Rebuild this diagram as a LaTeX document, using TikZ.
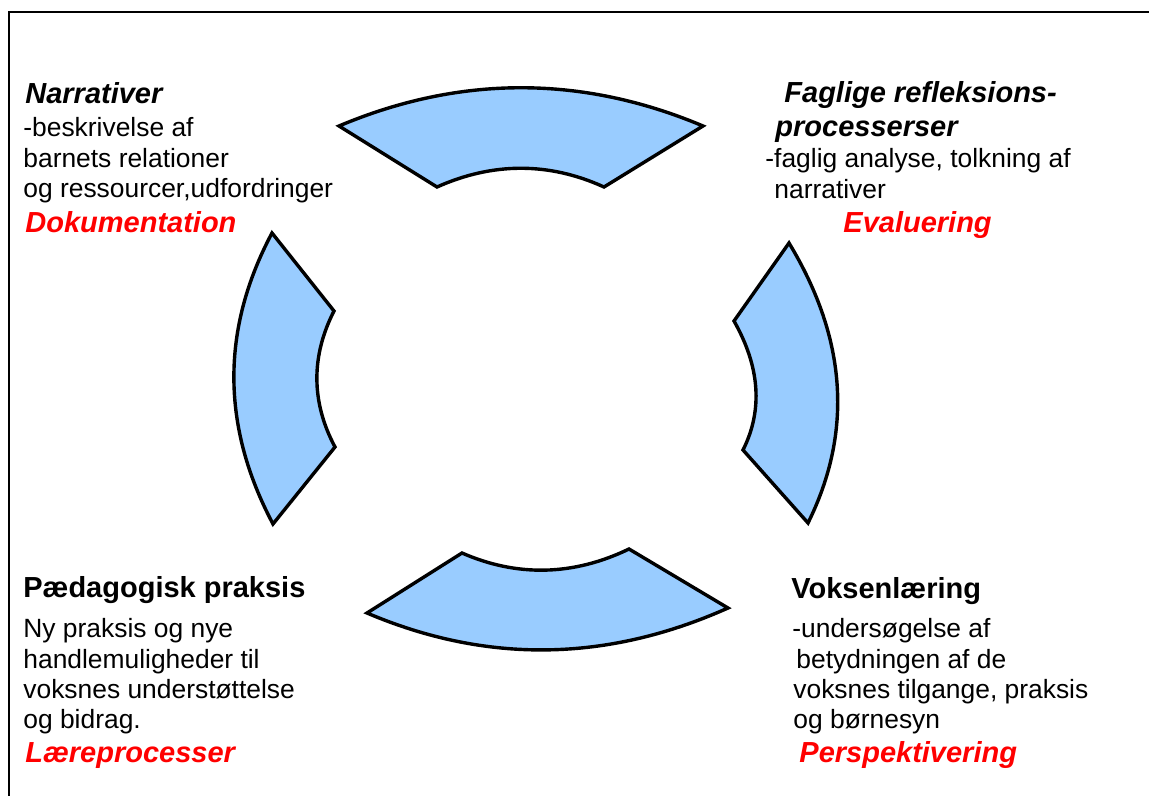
\documentclass[tikz,border=0pt]{standalone}
\usepackage{fontspec}
\setmainfont{Liberation Sans}
\usepackage{tikz}
\definecolor{segblue}{RGB}{153,204,255}
\tikzset{
  segment/.style={draw, line width=1.7pt, fill=segblue},
  body/.style={anchor=base west, inner sep=0pt, font=\fontsize{13.2}{15}\selectfont},
  head/.style={anchor=base west, inner sep=0pt, font=\fontsize{14.5}{17}\selectfont\bfseries},
  headit/.style={head, font=\fontsize{14.5}{17}\selectfont\bfseries\itshape},
  phase/.style={headit, text=red}
}

\begin{document}
\begin{tikzpicture}[x=0.5pt, y=-0.5pt]
  \useasboundingbox (0,0) rectangle (1149,796);
  \draw[line width=1.1pt] (1149,12) -- (9,12) -- (9,796);

  % the four segments of the ring
  \draw[segment] (339,126) .. controls (460,75) and (582,75) .. (703,126)
    -- (604,187) .. controls (549,162) and (493,162) .. (437,187) -- cycle;
  \draw[segment] (334,311) .. controls (311,356) and (311,402) .. (335,447)
    -- (273,524) .. controls (221,426) and (221,329) .. (272,233) -- cycle;
  \draw[segment] (789,243) .. controls (847,339) and (853,432) .. (808,523)
    -- (743,450) .. controls (763,410) and (760,367) .. (734,321) -- cycle;
  \draw[segment] (462,553) .. controls (517,577) and (573,576) .. (629,549)
    -- (728,608) .. controls (607,662) and (487,664) .. (367,613) -- cycle;

  % top left
  \node[headit] (narr) at (25,104) {Narrativer};
  \node[body] (narr1) at (23,137) {-beskrivelse af};
  \node[body] (narr2) at (23,168) {barnets relationer};
  \node[body] (narr3) at (23,198) {og ressourcer,udfordringer};
  \node[phase] (dok) at (25,233) {Dokumentation};

  % top right
  \node[headit] (fag) at (784,103) {Faglige refleksions-};
  \node[headit] (fag0) at (775,137) {processerser};
  \node[body] (fag1) at (765,168) {-faglig analyse, tolkning af};
  \node[body] (fag2) at (774,199) {narrativer};
  \node[phase] (eval) at (843,233) {Evaluering};

  % bottom left
  \node[head] (paed) at (23,597) {Pædagogisk praksis};
  \node[body] (paed1) at (23,637) {Ny praksis og nye};
  \node[body] (paed2) at (23,668) {handlemuligheder til};
  \node[body] (paed3) at (23,698) {voksnes understøttelse};
  \node[body] (paed4) at (23,728) {og bidrag.};
  \node[phase] (laer) at (25,762) {Læreprocesser};

  % bottom right
  \node[head] (voks) at (791,598) {Voksenlæring};
  \node[body] (voks1) at (792,637) {-undersøgelse af};
  \node[body] (voks2) at (796,668) {betydningen af de};
  \node[body] (voks3) at (793,698) {voksnes tilgange, praksis};
  \node[body] (voks4) at (793,728) {og børnesyn};
  \node[phase] (pers) at (799,762) {Perspektivering};
\end{tikzpicture}
\end{document}
